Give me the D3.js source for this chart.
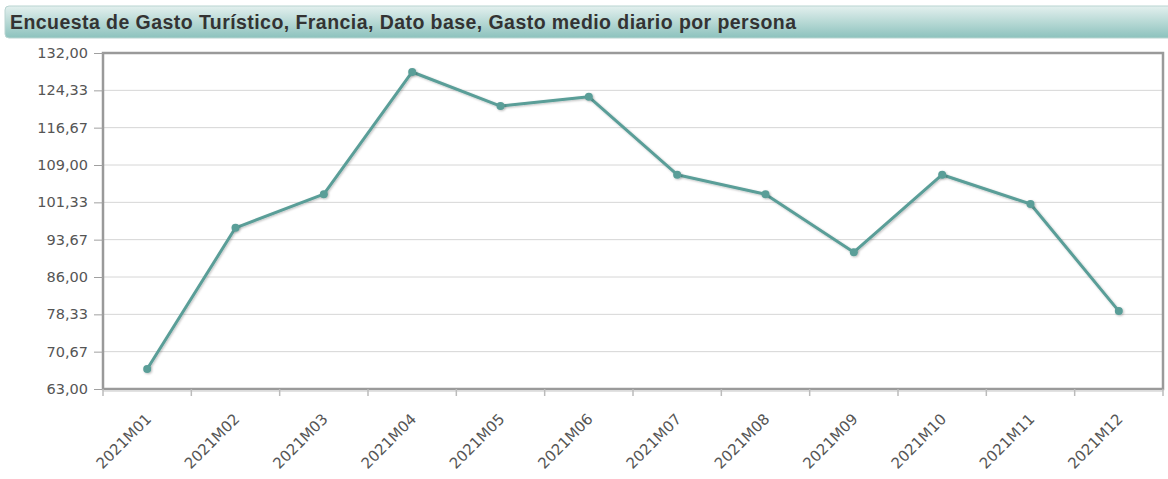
<!DOCTYPE html>
<html><head><meta charset="utf-8">
<script src="https://cdn.jsdelivr.net/npm/d3@7"></script>
<style>body{margin:0;background:#fff;}svg{display:block;}</style>
</head><body>
<svg id="c" width="1168" height="479"></svg>
<script>
const title = "Encuesta de Gasto Turístico, Francia, Dato base, Gasto medio diario por persona";
const categories = ["2021M01","2021M02","2021M03","2021M04","2021M05","2021M06","2021M07","2021M08","2021M09","2021M10","2021M11","2021M12"];
const values = [67.1, 96.1, 103.0, 128.1, 121.1, 123.0, 107.0, 103.0, 91.1, 107.0, 101.0, 79.0];
const yTicks = [63.00, 70.67, 78.33, 86.00, 93.67, 101.33, 109.00, 116.67, 124.33, 132.00];

const svg = d3.select("#c");
const defs = svg.append("defs");
const g1 = defs.append("linearGradient").attr("id","tg").attr("x1",0).attr("y1",0).attr("x2",0).attr("y2",1);
g1.append("stop").attr("offset","0%").attr("stop-color","#e3f0ee");
g1.append("stop").attr("offset","100%").attr("stop-color","#8cc2bd");
const f = defs.append("filter").attr("id","sh").attr("x","-50%").attr("y","-50%").attr("width","200%").attr("height","200%");
f.append("feDropShadow").attr("dx",1).attr("dy",1).attr("stdDeviation",1).attr("flood-color","#000").attr("flood-opacity",0.25);

// title bar
svg.append("rect").attr("x",5).attr("y",6).attr("width",1170).attr("height",32).attr("rx",4)
  .attr("fill","url(#tg)").attr("stroke","#b9d4d1").attr("stroke-width",1);
svg.append("text").attr("x",10).attr("y",28.5).text(title)
  .attr("font-family","Liberation Sans, Arial, sans-serif").attr("font-weight","bold")
  .attr("font-size",19.5).attr("fill","#333")
  .attr("textLength",786).attr("lengthAdjust","spacing");

const L=103, R=1163, T=53, B=389;
const x = d3.scaleBand().domain(categories).range([L,R]);
const y = d3.scaleLinear().domain([63,132]).range([B,T]);

// grid
svg.append("g").selectAll("line").data(yTicks).join("line")
  .attr("x1",L).attr("x2",R).attr("y1",d=>y(d)).attr("y2",d=>y(d))
  .attr("stroke","#d6d6d6").attr("stroke-width",1);

// frame
svg.append("rect").attr("x",L).attr("y",T).attr("width",R-L).attr("height",B-T)
  .attr("fill","none").attr("stroke","#9a9a9a").attr("stroke-width",2.5);
svg.append("line").attr("x1",L).attr("x2",R).attr("y1",B+2).attr("y2",B+2).attr("stroke","#d8d8d8").attr("stroke-width",1.5);

// y axis
const ya = svg.append("g").attr("transform",`translate(${L},0)`)
  .call(d3.axisLeft(y).tickValues(yTicks).tickSize(9).tickPadding(6)
    .tickFormat(d=>d3.format(".2f")(d).replace(".",",")));
ya.select(".domain").remove();
ya.selectAll(".tick line").attr("stroke","#a0a0a0");
ya.selectAll("text").attr("font-family","DejaVu Sans, Verdana, sans-serif").attr("font-size",14.5).attr("fill","#555");

// x axis
const xa = svg.append("g").attr("transform",`translate(0,${B})`)
  .call(d3.axisBottom(x).tickSize(0).tickPadding(0));
xa.select(".domain").remove();
xa.selectAll(".tick line").remove();
xa.selectAll(".tick text")
  .attr("font-family","DejaVu Sans, Verdana, sans-serif").attr("font-size",15).attr("fill","#555")
  .attr("text-anchor","end").attr("dy",0).attr("transform","translate(5,31) rotate(-45)");
// boundary ticks
const bounds = categories.map(c=>x(c)).concat([R]);
svg.append("g").selectAll("line").data(bounds).join("line")
  .attr("x1",d=>d).attr("x2",d=>d).attr("y1",B).attr("y2",B+7)
  .attr("stroke","#bbb").attr("stroke-width",1.5);

// line
const cx = d=>x(d)+x.bandwidth()/2;
const line = d3.line().x((d,i)=>cx(categories[i])).y(d=>y(d));
svg.append("path").datum(values).attr("d",line).attr("fill","none")
  .attr("stroke","#5a9e98").attr("stroke-width",3).attr("stroke-linejoin","round").attr("filter","url(#sh)");
svg.append("g").selectAll("circle").data(values).join("circle")
  .attr("cx",(d,i)=>cx(categories[i])).attr("cy",d=>y(d)).attr("r",4)
  .attr("fill","#5a9e98").attr("filter","url(#sh)");
</script>
</body></html>
